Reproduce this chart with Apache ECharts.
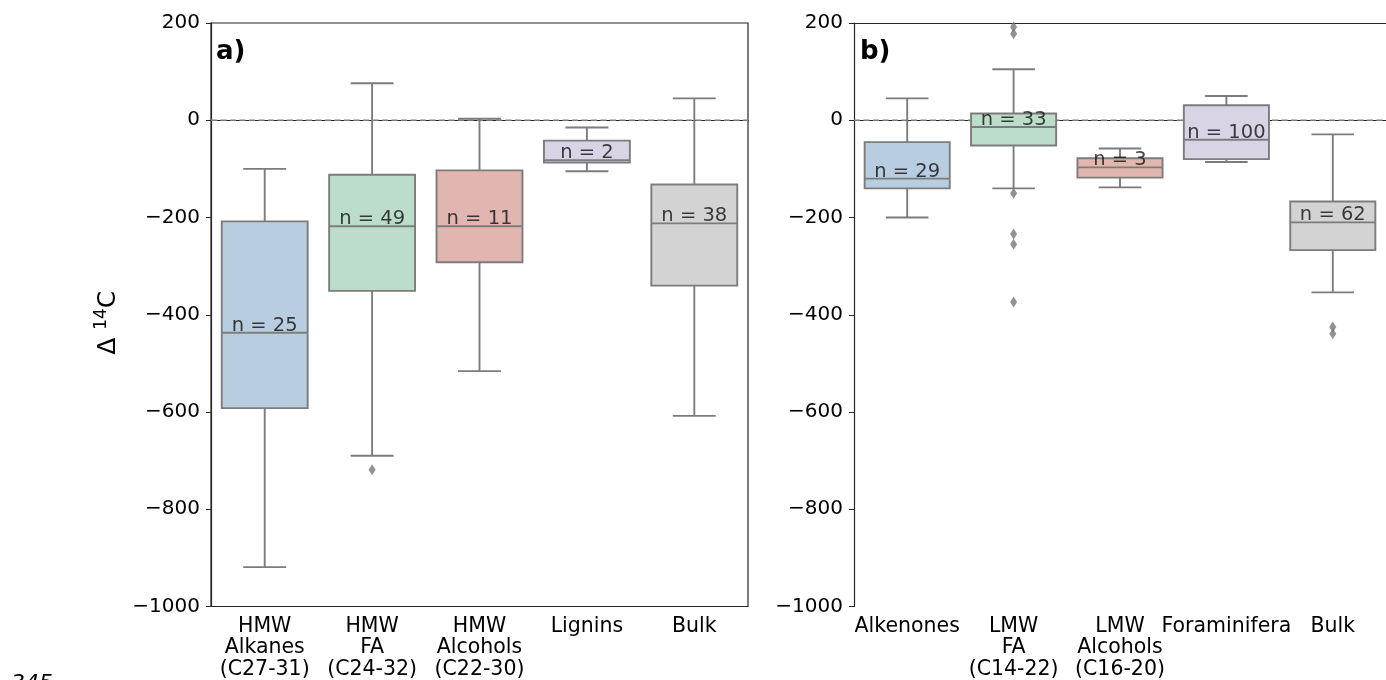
<!DOCTYPE html>
<html>
<head>
<meta charset="utf-8">
<script src="https://cdn.jsdelivr.net/npm/echarts@6/dist/echarts.min.js"></script>
<style>
  html, body { margin: 0; padding: 0; background: #fff; }
  #chart { width: 1386px; height: 680px; }
</style>
</head>
<body>
<div id="chart"></div>
<script>
// panel a) high molecular weight compounds
const catsA = ['HMW\nAlkanes\n(C27-31)', 'HMW\nFA\n(C24-32)', 'HMW\nAlcohols\n(C22-30)', 'Lignins', 'Bulk'];
const lowA = [-919, -690, -516, -105, -608];
const q1A = [-592, -351, -292, -87, -340];
const medA = [-437, -218, -218, -82, -212];
const q3A = [-208, -112, -103, -42, -132];
const highA = [-100, 76, 3, -15, 45];
const nA = [25, 49, 11, 2, 38];
const outA = [[1, -719]];

// panel b) low molecular weight / marine
const catsB = ['Alkenones', 'LMW\nFA\n(C14-22)', 'LMW\nAlcohols\n(C16-20)', 'Foraminifera', 'Bulk'];
const lowB = [-200, -140, -138, -86, -354];
const q1B = [-140, -52, -118, -80, -267];
const medB = [-120, -14, -97, -40, -210];
const q3B = [-45, 14, -78, 31, -167];
const highB = [45, 105, -58, 50, -29];
const nB = [29, 33, 3, 100, 62];
const outB = [[1, 192], [1, 178], [1, -150], [1, -234], [1, -255], [1, -374], [4, -425], [4, -439]];

const yTicks = { min: -1000, max: 200, interval: 200 };
const refLine = 0; // modern atmosphere reference, dashed
const boxColors = ['#b8cde0', '#bcdccc', '#e2b6b0', '#d8d4e6', '#d3d3d3'];
const FONT = 'DejaVu Sans';
const GREY = '#7c7c7c';
const SPINE = '#262626';

function boxData(lo, q1, med, q3, hi) {
  return lo.map((v, i) => [i, v, q1[i], med[i], q3[i], hi[i]]);
}

// seaborn style box: caps are half the box width
function renderBox(params, api) {
  const i = api.value(0);
  const band = api.size([1, 0])[0];
  const bw = band * 0.8;
  const cw = bw / 2;
  const lo = api.coord([i, api.value(1)]);
  const q1 = api.coord([i, api.value(2)]);
  const md = api.coord([i, api.value(3)]);
  const q3 = api.coord([i, api.value(4)]);
  const hi = api.coord([i, api.value(5)]);
  const cx = lo[0];
  const ls = { stroke: GREY, lineWidth: 1.9 };
  return {
    type: 'group',
    children: [
      { type: 'line', shape: { x1: cx, y1: hi[1], x2: cx, y2: q3[1] }, style: ls },
      { type: 'line', shape: { x1: cx, y1: q1[1], x2: cx, y2: lo[1] }, style: ls },
      { type: 'line', shape: { x1: cx - cw / 2, y1: hi[1], x2: cx + cw / 2, y2: hi[1] }, style: ls },
      { type: 'line', shape: { x1: cx - cw / 2, y1: lo[1], x2: cx + cw / 2, y2: lo[1] }, style: ls },
      { type: 'rect', shape: { x: cx - bw / 2, y: q3[1], width: bw, height: q1[1] - q3[1] },
        style: { fill: boxColors[params.dataIndex], stroke: GREY, lineWidth: 1.9 } },
      { type: 'line', shape: { x1: cx - bw / 2, y1: md[1], x2: cx + bw / 2, y2: md[1] }, style: ls }
    ]
  };
}

// horizontal dashed line across the whole plot area
function renderRefLine(params, api) {
  const y = api.coord([0, api.value(1)])[1];
  const cs = params.coordSys;
  return {
    type: 'line',
    shape: { x1: cs.x, y1: y, x2: cs.x + cs.width, y2: y },
    style: { stroke: GREY, lineWidth: 1.5, lineDash: [6, 3.5] }
  };
}

function xAxisFor(idx, cats) {
  return {
    type: 'category', gridIndex: idx, data: cats,
    axisLine: { lineStyle: { color: SPINE, width: 1.2 } },
    axisTick: { alignWithLabel: true, length: 5, lineStyle: { color: SPINE } },
    axisLabel: { fontSize: 20.5, fontFamily: FONT, color: '#000', margin: 9, lineHeight: 21.5, interval: 0 },
    splitLine: { show: false }
  };
}

// plain line used as the top spine of panel b (no right spine there)
function topSpine(idx, cats) {
  return {
    type: 'category', gridIndex: idx, data: cats, position: 'top',
    axisLine: { lineStyle: { color: SPINE, width: 1.2 } },
    axisTick: { show: false }, axisLabel: { show: false }, splitLine: { show: false }
  };
}

function yAxisFor(idx) {
  return {
    type: 'value', gridIndex: idx,
    min: yTicks.min, max: yTicks.max, interval: yTicks.interval,
    axisLine: { show: true, lineStyle: { color: SPINE, width: 1.2 } },
    axisTick: { show: true, length: 5, lineStyle: { color: SPINE } },
    axisLabel: { fontSize: 20, fontFamily: FONT, color: '#000', margin: 11,
      formatter: v => String(v).replace('-', '\u2212') },
    splitLine: { show: false }
  };
}

function panelSeries(idx, lo, q1, med, q3, hi, ns, outs) {
  return [
    {
      type: 'custom', xAxisIndex: idx, yAxisIndex: idx, z: 1, silent: true,
      renderItem: renderRefLine,
      data: [[0, refLine]]
    },
    {
      type: 'custom', xAxisIndex: idx, yAxisIndex: idx, z: 3,
      renderItem: renderBox,
      encode: { x: 0, y: [1, 2, 3, 4, 5] },
      data: boxData(lo, q1, med, q3, hi)
    },
    {
      type: 'scatter', xAxisIndex: idx, yAxisIndex: idx, z: 4,
      symbol: 'diamond', symbolSize: [7, 11],
      itemStyle: { color: '#777' },
      data: outs
    },
    {
      type: 'scatter', xAxisIndex: idx, yAxisIndex: idx, z: 5,
      symbolSize: 0,
      data: med.map((m, i) => [i, m]),
      label: {
        show: true, position: 'top', distance: -3,
        fontSize: 19.5, fontFamily: FONT, color: '#111',
        formatter: p => 'n = ' + ns[p.dataIndex]
      }
    }
  ];
}

const chart = echarts.init(document.getElementById('chart'), null, { renderer: 'canvas' });

const option = {
  backgroundColor: '#fff',
  animation: false,
  title: [
    { text: 'a)', left: 216, top: 39, padding: 0,
      textStyle: { fontSize: 26, fontWeight: 'bold', fontFamily: FONT, color: '#000' } },
    { text: 'b)', left: 860, top: 39, padding: 0,
      textStyle: { fontSize: 26, fontWeight: 'bold', fontFamily: FONT, color: '#000' } }
  ],
  grid: [
    { left: 211, top: 23, width: 537, height: 586, show: true, borderColor: SPINE, borderWidth: 1.2 },
    { left: 854, top: 23, width: 536, height: 586, show: false }
  ],
  xAxis: [xAxisFor(0, catsA), xAxisFor(1, catsB), topSpine(1, catsB)],
  yAxis: [
    Object.assign(yAxisFor(0), {
      name: '{d|\u0394 }{s|14}{d|C}',
      nameLocation: 'middle', nameGap: 88, nameRotate: 90,
      nameTextStyle: {
        padding: [0, 16, 0, 0],
        rich: {
          d: { fontSize: 25, fontFamily: FONT, color: '#000', lineHeight: 30 },
          s: { fontSize: 17, fontFamily: FONT, color: '#000', verticalAlign: 'top', lineHeight: 30 }
        }
      }
    }),
    yAxisFor(1)
  ],
  graphic: [
    { type: 'text', left: 11, top: 673,
      style: { text: '345', font: 'italic 22px "DejaVu Sans"', fill: '#000' } }
  ],
  series: [
    ...panelSeries(0, lowA, q1A, medA, q3A, highA, nA, outA),
    ...panelSeries(1, lowB, q1B, medB, q3B, highB, nB, outB)
  ]
};

chart.setOption(option);
</script>
</body>
</html>
